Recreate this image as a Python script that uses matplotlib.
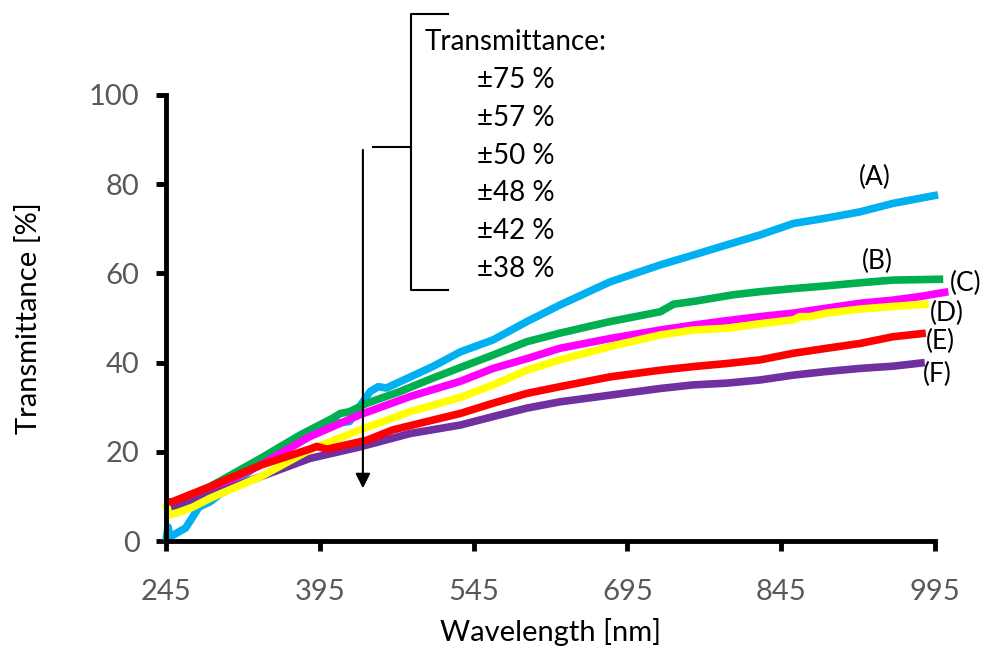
import matplotlib
matplotlib.use('Agg')
import matplotlib.pyplot as plt

plt.rcParams['font.family'] = ['Lato', 'DejaVu Sans']

# (A) blue
a_x = [245, 247, 249, 251, 257, 264, 271, 277, 288, 337, 385, 408, 424, 437,
       444, 452, 460, 473, 505, 532, 564, 597, 629, 678, 727, 759, 792, 824,
       857, 889, 922, 954, 998]
a_y = [0.2, 3.1, 0.7, 1.2, 2.0, 2.9, 5.4, 7.6, 8.8, 17.5, 24.5, 26.3, 26.8,
       31.2, 33.5, 34.6, 34.3, 35.7, 39.1, 42.4, 45.1, 49.2, 52.9, 58.1, 61.9,
       64.1, 66.4, 68.6, 71.2, 72.4, 73.8, 75.7, 77.6]

# (B) green
b_x = [245, 249, 288, 337, 376, 408, 415, 424, 441, 473, 505, 532, 564, 597,
       629, 678, 727, 740, 759, 798, 824, 857, 889, 922, 954, 1003]
b_y = [8.5, 8.1, 12.2, 18.5, 23.8, 27.6, 28.6, 29.0, 30.9, 33.5, 36.5, 38.9,
       41.7, 44.7, 46.6, 49.2, 51.4, 53.1, 53.7, 55.2, 55.9, 56.6, 57.2, 57.9,
       58.5, 58.7]

# (C) magenta
c_x = [245, 249, 288, 337, 385, 434, 483, 532, 564, 597, 629, 678, 727, 759,
       792, 824, 857, 889, 922, 954, 980, 1008]
c_y = [8.0, 8.5, 11.4, 17.0, 23.4, 28.3, 32.4, 35.8, 38.7, 40.9, 43.2, 45.4,
       47.3, 48.4, 49.4, 50.3, 51.1, 52.2, 53.3, 54.0, 54.8, 55.9]

# (D) yellow
d_x = [245, 248, 258, 271, 288, 337, 385, 434, 483, 532, 564, 597, 629, 678,
       727, 759, 792, 824, 857, 863, 873, 889, 922, 954, 989]
d_y = [8.5, 5.8, 6.5, 7.6, 9.6, 14.4, 20.4, 24.9, 29.0, 32.2, 35.0, 38.3,
       40.6, 43.6, 46.2, 47.3, 47.7, 48.7, 49.6, 50.3, 50.3, 51.1, 52.0, 52.6,
       53.1]

# (E) red
e_x = [245, 251, 288, 337, 385, 392, 402, 441, 466, 505, 532, 564, 597, 629,
       678, 727, 759, 792, 824, 857, 889, 922, 954, 986]
e_y = [8.8, 8.8, 12.2, 17.0, 20.6, 21.2, 20.6, 22.6, 24.9, 27.1, 28.6, 30.9,
       33.1, 34.6, 36.8, 38.3, 39.1, 39.8, 40.6, 42.1, 43.2, 44.3, 45.8, 46.6]

# (F) purple
f_x = [245, 251, 288, 337, 385, 434, 483, 532, 564, 597, 629, 678, 727, 759,
       792, 824, 857, 889, 922, 954, 985]
f_y = [8.0, 7.0, 10.3, 14.4, 18.5, 21.1, 24.1, 26.0, 27.9, 29.8, 31.2, 32.7,
       34.2, 35.0, 35.4, 36.1, 37.2, 38.0, 38.7, 39.2, 40.0]

labels = ['(A)', '(B)', '(C)', '(D)', '(E)', '(F)']
label_pos = [(936, 81.4), (939, 62.6), (1025, 57.8), (1007, 51.1), (1000, 44.8),
             (997, 37.4)]
levels = ['±75 %', '±57 %', '±50 %', '±48 %', '±42 %', '±38 %']

fig = plt.figure(figsize=(9.86, 6.55), dpi=100)
ax = fig.add_axes([0.1684, 0.174, 0.7799, 0.681])

series = [
    (a_x, a_y, '#00B0F0'),
    (b_x, b_y, '#00B050'),
    (c_x, c_y, '#FF00FF'),
    (f_x, f_y, '#7030A0'),
    (d_x, d_y, '#FFFF00'),
    (e_x, e_y, '#FF0000'),
]
for xs, ys, col in series:
    ax.plot(xs, ys, color=col, lw=5.5, solid_capstyle='butt',
            solid_joinstyle='round', clip_on=False)

ax.set_xlim(245, 995)
ax.set_ylim(0, 100)
ax.set_xticks([245, 395, 545, 695, 845, 995])
ax.set_yticks([0, 20, 40, 60, 80, 100])
for s in ['top', 'right']:
    ax.spines[s].set_visible(False)
for s in ['left', 'bottom']:
    ax.spines[s].set_linewidth(3.5)
ax.tick_params(axis='both', width=3.5, length=7, direction='out',
               labelsize=21, labelcolor='#595959')
ax.tick_params(axis='x', pad=20)
ax.tick_params(axis='y', pad=12)
ax.set_xlabel('Wavelength [nm]', fontsize=21, labelpad=10)
ax.set_ylabel('Transmittance [%]', fontsize=21, labelpad=34)

for lab, (lx, ly) in zip(labels, label_pos):
    ax.text(lx, ly, lab, fontsize=19, ha='center', va='center', clip_on=False)

# bracket with legend text
bx = 484
ax.plot([520, bx, bx, 520], [118.2, 118.2, 56.3, 56.3], color='black', lw=1.5,
        clip_on=False)
ax.plot([447, bx], [88.3, 88.3], color='black', lw=1.5, clip_on=False)
ax.annotate('', xy=(437, 11.2), xytext=(437, 88.3),
            arrowprops=dict(arrowstyle='-|>', color='black', lw=1.5,
                            mutation_scale=22))
ax.text(497, 111.8, 'Transmittance:', fontsize=20, va='center', clip_on=False)
for i, t in enumerate(levels):
    ax.text(548, 103.3 - i * 8.45, t, fontsize=20, va='center', clip_on=False)

fig.savefig('out.png', dpi=100)
